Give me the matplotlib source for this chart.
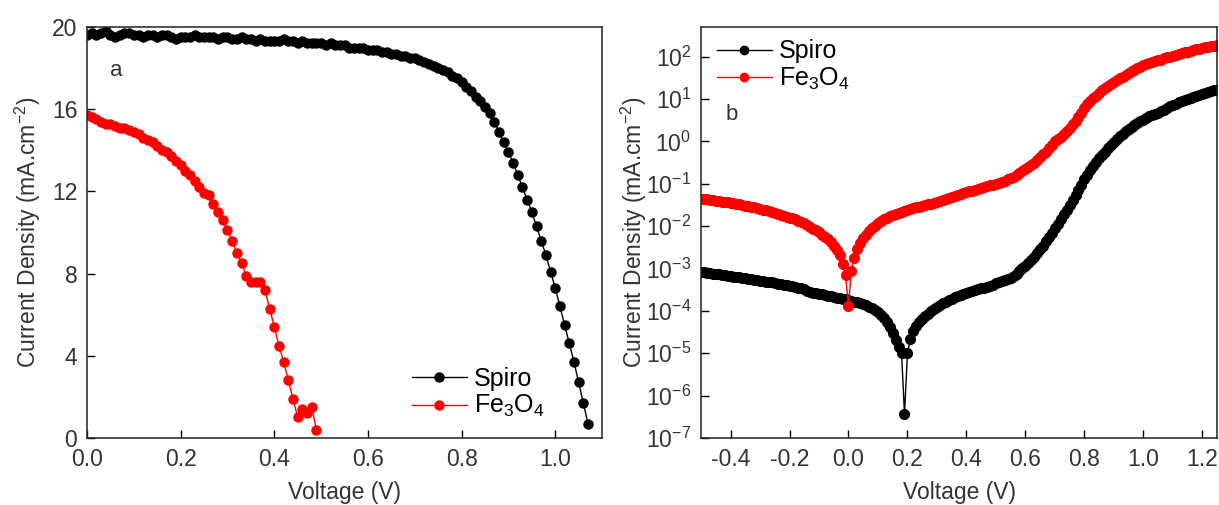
import numpy as np
import matplotlib
matplotlib.use("Agg")
import matplotlib.pyplot as plt

plt.rcParams['font.family'] = ['Liberation Sans', 'DejaVu Sans']
plt.rcParams['mathtext.fontset'] = 'custom'
plt.rcParams['mathtext.rm'] = 'Liberation Sans'
plt.rcParams['mathtext.default'] = 'regular'
plt.rcParams['axes.unicode_minus'] = False

# (a) J-V under illumination, 10 mV steps
spiro_j = [
    19.6, 19.7, 19.6, 19.7, 19.8, 19.6, 19.5, 19.6, 19.7, 19.7,
    19.6, 19.6, 19.5, 19.6, 19.6, 19.5, 19.6, 19.6, 19.5, 19.4,
    19.5, 19.5, 19.5, 19.6, 19.5, 19.5, 19.5, 19.5, 19.4, 19.5,
    19.5, 19.4, 19.4, 19.5, 19.4, 19.4, 19.3, 19.4, 19.3, 19.3,
    19.3, 19.3, 19.4, 19.3, 19.3, 19.2, 19.3, 19.2, 19.2, 19.2,
    19.2, 19.1, 19.2, 19.1, 19.1, 19.1, 19.0, 19.0, 19.0, 19.0,
    18.9, 18.9, 18.9, 18.8, 18.8, 18.7, 18.7, 18.6, 18.6, 18.5,
    18.5, 18.4, 18.3, 18.2, 18.1, 18.0, 17.9, 17.8, 17.6, 17.5,
    17.3, 17.1, 16.9, 16.6, 16.4, 16.1, 15.8, 15.4, 14.9, 14.4,
    13.9, 13.4, 12.8, 12.2, 11.6, 11.0, 10.3, 9.6, 8.9, 8.1,
    7.3, 6.4, 5.5, 4.6, 3.7, 2.7, 1.7, 0.7,
]
fe_j = [
    15.7, 15.6, 15.5, 15.4, 15.3, 15.3, 15.2, 15.1, 15.1, 15.0,
    14.9, 14.8, 14.6, 14.5, 14.4, 14.2, 14.0, 13.9, 13.7, 13.5,
    13.3, 13.0, 12.8, 12.5, 12.2, 11.9, 11.8, 11.4, 11.0, 10.6,
    10.1, 9.6, 9.0, 8.5, 7.9, 7.6, 7.6, 7.6, 7.2, 6.3,
    5.4, 4.5, 3.7, 2.8, 1.9, 1.0, 1.4, 1.2, 1.5, 0.4,
]
spiro_v = np.linspace(0, 1.07, len(spiro_j))
fe_v = np.linspace(0, 0.49, len(fe_j))

# (b) dark J-V, log10 of |J| in mA/cm2, -0.50 V to 1.25 V in 10 mV steps
spiro_dark_log = [
    -3.08, -3.09, -3.10, -3.11, -3.12, -3.13, -3.14, -3.15, -3.16, -3.17,
    -3.18, -3.19, -3.20, -3.21, -3.22, -3.23, -3.24, -3.26, -3.27, -3.28,
    -3.29, -3.30, -3.31, -3.32, -3.33, -3.35, -3.36, -3.37, -3.38, -3.39,
    -3.41, -3.42, -3.44, -3.45, -3.47, -3.49, -3.52, -3.55, -3.57, -3.58,
    -3.60, -3.61, -3.63, -3.64, -3.66, -3.67, -3.69, -3.70, -3.72, -3.73,
    -3.75, -3.77, -3.78, -3.80, -3.82, -3.84, -3.87, -3.90, -3.94, -3.98,
    -4.03, -4.10, -4.18, -4.26, -4.38, -4.52, -4.68, -4.85, -5.00, -6.43,
    -5.00, -4.67, -4.48, -4.36, -4.27, -4.20, -4.13, -4.07, -4.01, -3.96,
    -3.91, -3.86, -3.82, -3.78, -3.74, -3.71, -3.68, -3.65, -3.62, -3.60,
    -3.57, -3.55, -3.53, -3.51, -3.49, -3.47, -3.45, -3.43, -3.41, -3.39,
    -3.34, -3.32, -3.30, -3.28, -3.25, -3.22, -3.18, -3.12, -3.06, -3.00,
    -2.95, -2.88, -2.81, -2.73, -2.64, -2.55, -2.46, -2.36, -2.26, -2.16,
    -2.05, -1.94, -1.83, -1.72, -1.61, -1.50, -1.38, -1.26, -1.14, -1.02,
    -0.90, -0.79, -0.68, -0.58, -0.49, -0.40, -0.32, -0.24, -0.16, -0.08,
    -0.01, 0.06, 0.12, 0.18, 0.24, 0.29, 0.34, 0.39, 0.43, 0.47,
    0.51, 0.55, 0.59, 0.62, 0.65, 0.68, 0.72, 0.75, 0.78, 0.83,
    0.86, 0.89, 0.92, 0.95, 0.97, 1.00, 1.02, 1.04, 1.07, 1.09,
    1.12, 1.14, 1.16, 1.18, 1.20, 1.22,
]
fe_dark_log = [
    -1.35, -1.36, -1.37, -1.38, -1.39, -1.40, -1.41, -1.42, -1.43, -1.44,
    -1.45, -1.46, -1.47, -1.49, -1.50, -1.52, -1.53, -1.55, -1.56, -1.58,
    -1.60, -1.62, -1.63, -1.65, -1.67, -1.70, -1.72, -1.74, -1.76, -1.78,
    -1.80, -1.82, -1.84, -1.87, -1.90, -1.93, -1.97, -2.02, -2.06, -2.10,
    -2.15, -2.20, -2.25, -2.31, -2.38, -2.46, -2.56, -2.68, -2.90, -3.15,
    -3.89, -3.05, -2.75, -2.55, -2.40, -2.29, -2.20, -2.12, -2.05, -1.99,
    -1.93, -1.88, -1.84, -1.80, -1.77, -1.74, -1.71, -1.69, -1.66, -1.64,
    -1.62, -1.60, -1.58, -1.56, -1.54, -1.52, -1.50, -1.48, -1.47, -1.45,
    -1.42, -1.40, -1.38, -1.35, -1.33, -1.31, -1.29, -1.27, -1.24, -1.22,
    -1.20, -1.18, -1.16, -1.14, -1.12, -1.10, -1.08, -1.06, -1.04, -1.02,
    -1.00, -0.98, -0.96, -0.93, -0.90, -0.87, -0.83, -0.79, -0.75, -0.70,
    -0.65, -0.60, -0.55, -0.50, -0.44, -0.38, -0.31, -0.24, -0.16, -0.08,
    0.00, 0.05, 0.11, 0.17, 0.24, 0.32, 0.40, 0.49, 0.58, 0.68,
    0.78, 0.87, 0.95, 1.02, 1.08, 1.14, 1.20, 1.26, 1.31, 1.36,
    1.41, 1.45, 1.49, 1.53, 1.57, 1.61, 1.65, 1.69, 1.72, 1.76,
    1.79, 1.82, 1.84, 1.87, 1.89, 1.91, 1.93, 1.96, 1.98, 2.00,
    2.02, 2.04, 2.06, 2.08, 2.10, 2.12, 2.14, 2.15, 2.17, 2.19,
    2.20, 2.22, 2.23, 2.25, 2.26, 2.27,
]
dark_v = np.linspace(-0.5, 1.25, len(spiro_dark_log))

x_ticks_a = [0.0, 0.2, 0.4, 0.6, 0.8, 1.0]
y_ticks_a = [0, 4, 8, 12, 16, 20]
x_ticks_b = [-0.4, -0.2, 0.0, 0.2, 0.4, 0.6, 0.8, 1.0, 1.2]
decades_b = [-7, -6, -5, -4, -3, -2, -1, 0, 1, 2]

label_fe = 'Fe$_3$O$_4$'
ylab = 'Current Density (mA.cm$^{-2}$)'
tick_col = '#333333'

fig = plt.figure(figsize=(12.19, 5.05), dpi=100)
ax1 = fig.add_axes([0.0714, 0.1327, 0.4225, 0.8139])
ax2 = fig.add_axes([0.5751, 0.1327, 0.4233, 0.8139])

# panel a
ax1.plot(spiro_v, spiro_j, '-o', color='black', lw=1, ms=6.5, label='Spiro')
ax1.plot(fe_v, fe_j, '-o', color='red', lw=1, ms=6.5, label=label_fe)
ax1.set_xlim(0, 1.1)
ax1.set_ylim(0, 20)
ax1.set_xticks(x_ticks_a)
ax1.set_xticklabels([f'{t:.1f}' for t in x_ticks_a])
ax1.set_yticks(y_ticks_a)
ax1.text(0.045, 0.895, 'a', transform=ax1.transAxes, fontsize=16,
         va='center', ha='left', color=tick_col)
ax1.legend(loc='lower left', bbox_to_anchor=(0.63, 0.045), frameon=False,
           fontsize=18, handlelength=2.2, handletextpad=0.3,
           labelspacing=0.1, borderpad=0, borderaxespad=0)

# panel b
ax2.semilogy(dark_v, 10 ** np.array(spiro_dark_log), '-o', color='black',
             lw=1, ms=7, label='Spiro')
ax2.semilogy(dark_v, 10 ** np.array(fe_dark_log), '-o', color='red',
             lw=1, ms=7, label=label_fe)
ax2.set_xlim(-0.5, 1.25)
ax2.set_ylim(1e-7, 5e2)
ax2.set_xticks(x_ticks_b)
ax2.set_xticklabels([f'{t:.1f}' for t in x_ticks_b])
ax2.set_yticks([10.0 ** d for d in decades_b])
ax2.set_yticklabels([f'$10^{{{d}}}$' for d in decades_b])
ax2.minorticks_off()
ax2.text(0.047, 0.786, 'b', transform=ax2.transAxes, fontsize=16,
         va='center', ha='left', color=tick_col)
ax2.legend(loc='upper left', bbox_to_anchor=(0.03, 0.97), frameon=False,
           fontsize=18, handlelength=2.2, handletextpad=0.3,
           labelspacing=0.1, borderpad=0, borderaxespad=0,
           markerscale=6.0 / 7)

for ax in (ax1, ax2):
    ax.tick_params(direction='in', length=6, width=1, labelsize=16.5,
                   labelcolor=tick_col, pad=7, top=False, right=False)
    for s in ax.spines.values():
        s.set_linewidth(1.1)
        s.set_color('#222222')
    ax.set_xlabel('Voltage (V)', fontsize=16.5, color=tick_col)
    ax.set_ylabel(ylab, fontsize=16.5, color=tick_col)
    ax.xaxis.set_label_coords(0.5, -0.105)

ax1.yaxis.set_label_coords(-0.085, 0.5)
ax2.yaxis.set_label_coords(-0.1, 0.5)

fig.savefig('out.png', dpi=100)
